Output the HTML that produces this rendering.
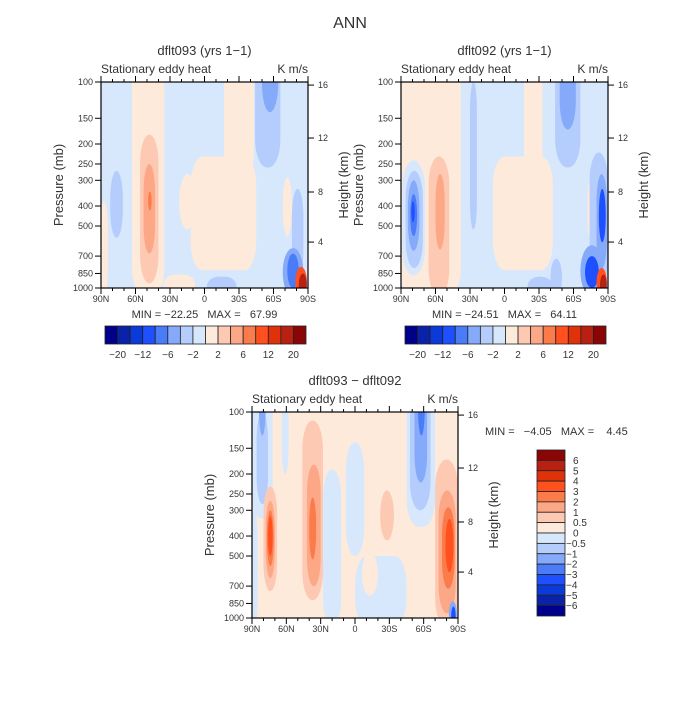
<!DOCTYPE html>
<html><head><meta charset="utf-8"><style>
body{margin:0;background:#fff}
svg text{font-family:"Liberation Sans",sans-serif;fill:#333;white-space:pre}
</style></head><body>
<svg id="fig" width="700" height="700" xmlns="http://www.w3.org/2000/svg">
<rect width="700" height="700" fill="#fff"/>
<text x="350" y="28" font-size="16" text-anchor="middle" fill="#555">ANN</text>
</svg>
<script>
// palette index 0..15 (navy .. maroon)
const palette=["#00008a","#0a22a8","#0a3ad8","#1e50ff","#4a7cfa","#86aafa","#b4cdfc","#d7e8fd","#feeadb","#fec9b2","#fca887","#fb7b4b","#ff501e","#e0320a","#b82012","#8a0606"];
const pLabels=[100,150,200,250,300,400,500,700,850,1000];
const hLabels=[16,12,8,4];
const hFrac=[0.015,0.272,0.534,0.777];
const latTicks=[90,60,30,0,-30,-60,-90];
const latLabels=["90N","60N","30N","0","30S","60S","90S"];
const topBarLabels=["-20","-12","-6","-2","2","6","12","20"];
const diffBarLabels=["6","5","4","3","2","1","0.5","0","-0.5","-1","-2","-3","-4","-5","-6"];
// blobs: [lat1, lat2, pTop, pBottom, colorIndex]
const blobs1=[[91,84,380,1100,8],[63,35,60,1100,8],[56,40,180,950,9],[53,43,250,680,10],[49,46,340,420,11],
[12,-45,230,820,8],[-17,-43,60,300,8],[22,8,280,520,8],[36,8,860,1100,8],[-2,-28,880,1100,6],
[82,71,270,570,6],[-44,-66,60,260,6],[-50,-64,60,140,5],[-68,-76,290,560,8],[-76,-86,330,900,6],
[-68,-86,640,1100,5],[-72,-82,680,1000,4],[-79,-89,790,1100,12],[-82,-89,850,1100,14]];
const blobs2=[[91,38,60,1100,8],[66,48,230,1100,9],[60,52,280,650,10],[89,69,240,870,7],[86,71,270,800,6],[84,74,300,660,5],[82,76,350,560,4],[81,78,380,480,3],
[10,-42,230,820,8],[-17,-33,60,300,8],[30,24,100,520,6],[-40,-50,720,1100,6],
[-44,-66,60,260,6],[-48,-62,60,170,5],[-72,-77,300,570,8],[-74,-90,220,1000,6],[-80,-89,280,800,5],[-82,-88,330,600,3],
[-66,-86,620,1100,5],[-70,-82,700,1000,3],[-80,-89,800,1100,12],[-83,-89,860,1100,14],[-20,-42,880,1100,6]];
const blobs3=[[91,72,60,330,7],[86,76,100,280,6],[84,78,60,130,5],[91,85,300,1100,7],[64,58,60,200,7],
[80,68,230,740,9],[78,70,270,640,10],[77,71,300,560,11],[76,72,320,500,12],
[46,28,110,820,9],[42,30,180,700,10],[40,34,260,520,11],
[28,12,190,1100,7],[0,-45,500,1100,7],[8,-8,140,500,7],[-6,-20,480,780,8],[-22,-34,240,420,9],
[-45,-70,60,360,7],[-48,-66,60,300,6],[-52,-63,60,220,5],[-55,-61,60,130,4],
[-70,-90,170,1100,9],[-73,-88,240,950,10],[-76,-87,290,720,11],[-79,-86,330,600,12],[-82,-89,830,1100,5],[-84,-88,880,1100,3]];
const NS="http://www.w3.org/2000/svg";
const svg=document.getElementById('fig');
function mk(tag,at,parent){const e=document.createElementNS(NS,tag);for(const k in at)e.setAttribute(k,at[k]);(parent||svg).appendChild(e);return e;}
function panel(id,L,T,W,H,bg,blobs,title,minmax,mmx,mmy,mmAnchor){
  const xs=lat=>L+(90-lat)/180*W;
  const ys=p=>T+(Math.log10(p)-2)*H;
  const g=mk('g',{});
  
  
  const cp=mk('clipPath',{id:id+'clip'},g);mk('rect',{x:L,y:T,width:W,height:H},cp);
  const fg=mk('g',{'clip-path':'url(#'+id+'clip)'},g);
  const bgr=mk('rect',{x:L,y:T,width:W,height:H,fill:palette[bg]},fg);
  
  
  blobs.forEach(b=>{
    const x1=xs(b[0]),x2=xs(b[1]),y1=ys(b[2]),y2=ys(b[3]);
    const w=Math.abs(x2-x1),h=Math.abs(y2-y1);
    const e=mk('rect',{x:Math.min(x1,x2),y:Math.min(y1,y2),width:w,height:h,rx:Math.min(w/2,12),ry:Math.min(h/2,28),fill:palette[b[4]]},fg);
    
    
  });
  mk('rect',{x:L,y:T,width:W,height:H,fill:'none',stroke:'#000','stroke-width':1.2},g);
  for(let lat=90;lat>=-90;lat-=10){const x=xs(lat);const big=lat%30===0;
    mk('line',{x1:x,x2:x,y1:T+H,y2:T+H+(big?6:3),stroke:'#000'},g);
    mk('line',{x1:x,x2:x,y1:T,y2:T-(big?6:3),stroke:'#000'},g);}
  latTicks.forEach((lat,i)=>{const t=mk('text',{x:xs(lat),y:T+H+14,'font-size':9,'text-anchor':'middle'},g);t.textContent=latLabels[i];
    });
  pLabels.forEach(p=>{const y=ys(p);mk('line',{x1:L-6,x2:L,y1:y,y2:y,stroke:'#000'},g);
    const t=mk('text',{x:L-8,y:y+3,'font-size':9,'text-anchor':'end'},g);t.textContent=p;
    });
  hLabels.forEach((h,i)=>{const y=T+hFrac[i]*H;mk('line',{x1:L+W,x2:L+W+6,y1:y,y2:y,stroke:'#000'},g);
    const t=mk('text',{x:L+W+10,y:y+3,'font-size':9},g);t.textContent=h;
    });
  let t=mk('text',{x:0,y:0,'font-size':13,'text-anchor':'middle',transform:`translate(${L-38},${T+H/2}) rotate(-90)`},g);t.textContent='Pressure (mb)';
  
  t=mk('text',{x:0,y:0,'font-size':13,'text-anchor':'middle',transform:`translate(${L+W+40},${T+H/2}) rotate(-90)`},g);t.textContent='Height (km)';
  
  t=mk('text',{x:L,y:T-9,'font-size':12},g);t.textContent='Stationary eddy heat';
  
  t=mk('text',{x:L+W,y:T-9,'font-size':12,'text-anchor':'end'},g);t.textContent='K m/s';
  
  t=mk('text',{x:L+W/2,y:T-27,'font-size':13,'text-anchor':'middle'},g);t.textContent=title;
  
  t=mk('text',{x:mmx,y:mmy,'font-size':11,'text-anchor':mmAnchor},g);t.textContent=minmax;
  
}
panel('p1',101,82,207,206,7,blobs1,'dflt093 (yrs 1\u22121)','MIN = \u221222.25   MAX =   67.99',204.5,318,'middle');
panel('p2',401,82,207,206,7,blobs2,'dflt092 (yrs 1\u22121)','MIN = \u221224.51   MAX =   64.11',504.5,318,'middle');
panel('p3',252,412,206,206,8,blobs3,'dflt093 \u2212 dflt092','MIN =   \u22124.05   MAX =    4.45',485,435,'start');
function hbar(x0,name){
  const g=mk('g',{});
  const bw=201/16;
  palette.forEach((c,i)=>mk('rect',{x:x0+i*bw,y:326,width:bw,height:18,fill:c,stroke:'#222','stroke-width':0.8},g));
  topBarLabels.forEach((l,j)=>{const t=mk('text',{x:x0+(2*j+1)*bw,y:358,'font-size':10,'text-anchor':'middle'},g);t.textContent=l.replace('-','\u2212');
    });
}
hbar(105,'colorbar-left');hbar(405,'colorbar-right');
(function(){
  const g=mk('g',{});
  const bh=166/16;
  for(let i=0;i<16;i++)mk('rect',{x:537,y:450+i*bh,width:28,height:bh,fill:palette[15-i],stroke:'#222','stroke-width':0.8},g);
  diffBarLabels.forEach((l,j)=>{const t=mk('text',{x:l[0]==='-'?566:573,y:450+(j+1)*bh+3.5,'font-size':10},g);t.textContent=l.replace('-','\u2212');
    });
})();
</script>
</body></html>
